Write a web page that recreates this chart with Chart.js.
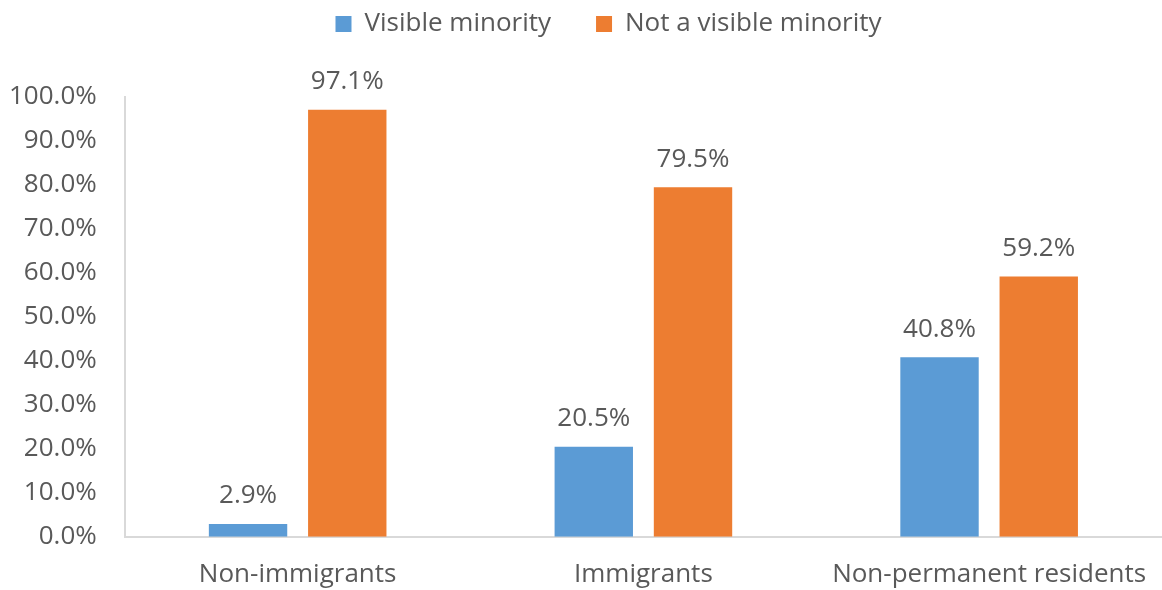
<!DOCTYPE html>
<html>
<head>
<meta charset="utf-8">
<script src="https://cdn.jsdelivr.net/npm/chart.js@4.4.0/dist/chart.umd.min.js"></script>
<style>
  html, body { margin: 0; padding: 0; background: #ffffff; }
  #wrap { width: 1162px; height: 590px; }
</style>
</head>
<body>
<div id="wrap"><canvas id="minorityChart" width="1162" height="590"></canvas></div>
<script>
const categories = ['Non-immigrants', 'Immigrants', 'Non-permanent residents'];
const visibleMinority = [2.9, 20.5, 40.8];
const notVisibleMinority = [97.1, 79.5, 59.2];
const seriesLabels = ['Visible minority', 'Not a visible minority'];

const textColor = '#595959';
const fontFamily = '"Open Sans", "Liberation Sans", sans-serif';
const fontSize = 26;
const xTickPad = 22;
const yTickPad = 28;

// draws the percentage above each bar
const barLabels = {
    id: 'barLabels',
    afterDatasetsDraw: (chart) => {
        const { ctx } = chart;
        ctx.save();
        ctx.font = fontSize + 'px ' + fontFamily;
        ctx.fillStyle = textColor;
        ctx.textAlign = 'center';
        ctx.textBaseline = 'middle';
        chart.data.datasets.forEach((ds, i) => {
            chart.getDatasetMeta(i).data.forEach((bar, j) => {
                ctx.fillText(ds.data[j].toFixed(1) + '%', bar.x, bar.y - 28);
            });
        });
        ctx.restore();
    }
};

// legend: wide gap between items, but kept near the top; fixed room under it
const legendGap = {
    id: 'legendGap',
    beforeInit: (chart) => {
        const fit = chart.legend.fit;
        chart.legend.fit = function () {
            fit.bind(chart.legend)();
            this.height = 97;
        };
    },
    afterLayout: (chart) => {
        chart.legend.top -= 34;
        chart.legend.bottom -= 34;
        chart.legend.left += 19;
        chart.legend.right += 19;
    }
};

// chart.js counts the tick padding twice when sizing; take one back,
// and leave no extra room for labels sticking out past the plot area
const fitX = (scale) => {
    scale.height -= xTickPad;
    scale.paddingLeft = 0;
    scale.paddingRight = 0;
};
const fitY = (scale) => {
    scale.width -= yTickPad;
    scale.paddingTop = 0;
    scale.paddingBottom = 0;
};

const ctx = document.getElementById('minorityChart').getContext('2d');
const minorityChart = new Chart(ctx, {
    type: 'bar',
    data: {
        labels: categories,
        datasets: [
            {
                label: seriesLabels[0],
                data: visibleMinority,
                backgroundColor: '#5B9BD5',
                categoryPercentage: 0.574,
                barPercentage: 0.79
            },
            {
                label: seriesLabels[1],
                data: notVisibleMinority,
                backgroundColor: '#ED7D31',
                categoryPercentage: 0.574,
                barPercentage: 0.79
            }
        ]
    },
    options: {
        responsive: false,
        animation: false,
        layout: { padding: { left: 9, right: -8, top: 0, bottom: 0 } },
        plugins: {
            legend: {
                position: 'top',
                labels: {
                    boxWidth: 16,
                    boxHeight: 16,
                    padding: 45,
                    color: textColor,
                    font: { size: fontSize, family: fontFamily }
                }
            },
            tooltip: { enabled: false }
        },
        scales: {
            x: {
                afterFit: fitX,
                grid: { display: false, drawTicks: false },
                border: { display: true, color: '#D9D9D9', width: 2 },
                ticks: {
                    color: textColor,
                    padding: xTickPad,
                    maxRotation: 0,
                    minRotation: 0,
                    autoSkip: false,
                    font: { size: fontSize, family: fontFamily }
                }
            },
            y: {
                afterFit: fitY,
                min: 0,
                max: 100,
                grid: { display: false, drawTicks: false },
                border: { display: true, color: '#D9D9D9', width: 2 },
                ticks: {
                    stepSize: 10,
                    color: textColor,
                    padding: yTickPad,
                    font: { size: fontSize, family: fontFamily },
                    callback: (value) => value.toFixed(1) + '%'
                }
            }
        }
    },
    plugins: [barLabels, legendGap]
});
</script>
</body>
</html>
